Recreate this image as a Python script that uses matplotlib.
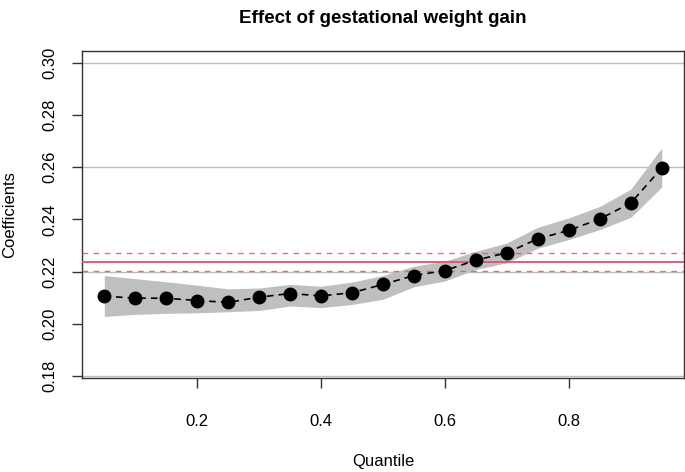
import matplotlib
matplotlib.use("Agg")
import matplotlib.pyplot as plt
import numpy as np

plt.rcParams['font.family'] = ['Liberation Sans', 'DejaVu Sans']

quantiles = [0.05, 0.10, 0.15, 0.20, 0.25, 0.30, 0.35, 0.40, 0.45, 0.50,
             0.55, 0.60, 0.65, 0.70, 0.75, 0.80, 0.85, 0.90, 0.95]
coef = [0.2106, 0.2098, 0.2098, 0.2089, 0.2082, 0.2102, 0.2116, 0.2107, 0.2119, 0.2151,
        0.2185, 0.2204, 0.2244, 0.2272, 0.2326, 0.2358, 0.2402, 0.2463, 0.2597]
upper = [0.2185, 0.2173, 0.2161, 0.2148, 0.2134, 0.2137, 0.2151, 0.2144, 0.2160, 0.2185,
         0.2221, 0.2240, 0.2278, 0.2310, 0.2370, 0.2406, 0.2450, 0.2516, 0.2674]
lower = [0.2028, 0.2036, 0.2040, 0.2042, 0.2046, 0.2051, 0.2068, 0.2062, 0.2074, 0.2094,
         0.2142, 0.2164, 0.2208, 0.2234, 0.2290, 0.2323, 0.2361, 0.2408, 0.2524]
ols_coef = 0.2236
ols_upper = 0.2270
ols_lower = 0.2202
grid_levels = [0.18, 0.22, 0.26, 0.30]
yticks = [0.18, 0.20, 0.22, 0.24, 0.26, 0.28, 0.30]
xticks = [0.2, 0.4, 0.6, 0.8]

fig = plt.figure(figsize=(6.85, 4.72), dpi=100)
ax = fig.add_axes([82/685, 1-378/472, (684-82)/685, (378-51)/472])

for g in grid_levels:
    ax.axhline(g, color='#BEBEBE', lw=1.0, zorder=1)

ax.fill_between(quantiles, lower, upper, color='#BFBFBF', lw=0, zorder=2)

red = '#DF536B'
ax.axhline(ols_coef, color=red, lw=1.3, zorder=3)
ax.axhline(ols_upper, color=red, lw=1.0, ls=(0, (4, 4)), zorder=3, alpha=0.85)
ax.axhline(ols_lower, color=red, lw=1.0, ls=(0, (4, 4)), zorder=3, alpha=0.85)

ax.plot(quantiles, coef, color='black', lw=1.2, ls=(0, (4, 3)), zorder=4)
ax.plot(quantiles, coef, 'o', color='black', ms=9, zorder=5)

ax.set_xlim(0.014, 0.986)
ax.set_ylim(0.1792, 0.3046)
ax.set_xticks(xticks)
ax.set_xticklabels([f"{t:.1f}" for t in xticks])
ax.set_yticks(yticks)
ax.set_yticklabels([f"{t:.2f}" for t in yticks], rotation=90, va='center')
ax.tick_params(axis='both', labelsize=12, length=7, width=1, direction='out', color='#333333')
ax.tick_params(axis='x', pad=19)
ax.tick_params(axis='y', pad=11)
for s in ax.spines.values():
    s.set_linewidth(1.0)
    s.set_color('#333333')

ax.set_xlabel('Quantile', fontsize=12, labelpad=18)
ax.set_ylabel('Coefficients', fontsize=12, labelpad=18)
ax.set_title('Effect of gestational weight gain', fontsize=13.5, fontweight='bold', pad=20)

fig.savefig('out.png', dpi=100)
